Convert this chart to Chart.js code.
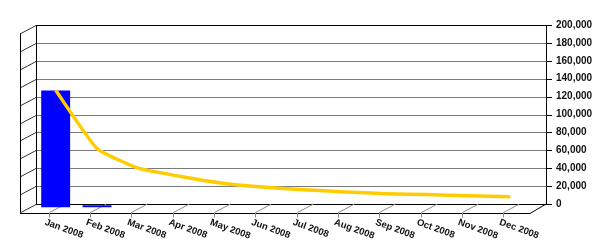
<!DOCTYPE html>
<html>
<head>
<meta charset="utf-8">
<script src="https://cdn.jsdelivr.net/npm/chart.js@4/dist/chart.umd.min.js"></script>
<style>
  html, body { margin: 0; padding: 0; background: #fff; }
  #wrap { width: 600px; height: 250px; }
</style>
</head>
<body>
<div id="wrap"><canvas id="chart"></canvas></div>
<script>
// monthly values
const months = ['Jan 2008', 'Feb 2008', 'Mar 2008', 'Apr 2008', 'May 2008', 'Jun 2008',
                'Jul 2008', 'Aug 2008', 'Sep 2008', 'Oct 2008', 'Nov 2008', 'Dec 2008'];
const barValues = [130500, 2200, null, null, null, null, null, null, null, null, null, null];
const lineValues = [127000, 62000, 40000, 31000, 23500, 19000, 16000, 13500, 11500, 10500, 9300, 8200];
const yTicks = [0, 20000, 40000, 60000, 80000, 100000, 120000, 140000, 160000, 180000, 200000];

const DX = 16, DY = 8.5;   // depth of the fake 3d box
const labelFont = 'bold 9.5px "Liberation Sans", Arial, sans-serif';

// walls, floor and rotated month labels
const frame3d = {
  id: 'frame3d',
  beforeDatasetsDraw(chart) {
    const ctx = chart.ctx;
    const y = chart.scales.y;
    const x = chart.scales.x;
    const backL = 36, backR = 546;
    const frontL = backL - DX, frontR = backR - DX;
    const top = y.getPixelForValue(200000);
    const bot = y.getPixelForValue(0);
    ctx.save();
    ctx.lineWidth = 1;
    // grid lines on back wall
    yTicks.forEach(v => {
      const py = Math.round(y.getPixelForValue(v)) + 0.5;
      ctx.strokeStyle = (v === 0 || v === 200000) ? '#000' : '#7a7a7a';
      ctx.beginPath(); ctx.moveTo(backL, py); ctx.lineTo(backR, py); ctx.stroke();
      // tick to the right
      ctx.strokeStyle = '#000';
      ctx.beginPath(); ctx.moveTo(backR, py); ctx.lineTo(backR + 6, py); ctx.stroke();
      // left wall slant
      ctx.strokeStyle = '#333';
      ctx.beginPath(); ctx.moveTo(frontL, py + DY); ctx.lineTo(backL, py); ctx.stroke();
    });
    ctx.strokeStyle = '#000';
    ctx.beginPath();
    ctx.moveTo(backL + 0.5, top); ctx.lineTo(backL + 0.5, bot);
    ctx.moveTo(backR + 0.5, top); ctx.lineTo(backR + 0.5, bot);
    ctx.moveTo(frontL + 0.5, top + DY); ctx.lineTo(frontL + 0.5, bot + DY);
    // floor
    ctx.moveTo(frontL, Math.round(bot + DY) + 0.5); ctx.lineTo(frontR, Math.round(bot + DY) + 0.5);
    ctx.lineTo(backR, bot);
    ctx.stroke();
    // floor ticks
    ctx.strokeStyle = '#8a8a8a';
    months.forEach((m, i) => {
      const px = Math.round(x.getPixelForValue(i) - 7) + 0.5;
      ctx.beginPath();
      ctx.moveTo(px, bot + DY); ctx.lineTo(px + DX, bot);
      ctx.moveTo(px, bot + DY); ctx.lineTo(px, bot + DY + 5);
      ctx.stroke();
    });
    ctx.restore();
  },
  afterDraw(chart) {
    const ctx = chart.ctx;
    const x = chart.scales.x;
    const bot = chart.scales.y.getPixelForValue(0) + DY;
    ctx.save();
    ctx.font = labelFont;
    ctx.fillStyle = '#111';
    ctx.textAlign = 'left';
    ctx.textBaseline = 'top';
    months.forEach((m, i) => {
      const px = x.getPixelForValue(i) - 9;
      ctx.save();
      ctx.translate(px, bot + 5);
      ctx.rotate(20 * Math.PI / 180);
      ctx.fillText(m, 0, 0);
      ctx.restore();
    });
    ctx.restore();
  }
};

const config = {
  data: {
    labels: months,
    datasets: [
      {
        type: 'line',
        data: lineValues,
        borderColor: '#FFCC00',
        borderWidth: 3.5,
        tension: 0.15,
        pointRadius: 0,
        yAxisID: 'y',
        order: 0
      },
      {
        type: 'bar',
        data: barValues,
        backgroundColor: '#0000FF',
        barPercentage: 0.7,
        categoryPercentage: 1,
        yAxisID: 'yb',
        clip: false,
        order: 1
      }
    ]
  },
  options: {
    responsive: true,
    maintainAspectRatio: false,
    animation: false,
    layout: { autoPadding: false, padding: { left: 35, top: 25, right: 0, bottom: 46 } },
    plugins: { legend: { display: false }, tooltip: { enabled: false } },
    scales: {
      x: { display: false, offset: true },
      y: {
        position: 'right',
        min: 0, max: 200000,
        afterFit(scale) { scale.width = 69; },
        afterBuildTicks(scale) { scale.ticks = yTicks.map(v => ({ value: v })); },
        grid: { display: false, drawTicks: true, tickLength: 25 },
        border: { display: false },
        ticks: {
          padding: 0,
          color: '#111',
          font: { family: '"Liberation Sans", Arial, sans-serif', size: 10, weight: 'bold' },
          callback: v => v.toLocaleString('en-US')
        }
      },
      yb: { display: false, min: 3600, max: 203600 }
    }
  },
  plugins: [frame3d]
};

new Chart(document.getElementById('chart'), config);
</script>
</body>
</html>
